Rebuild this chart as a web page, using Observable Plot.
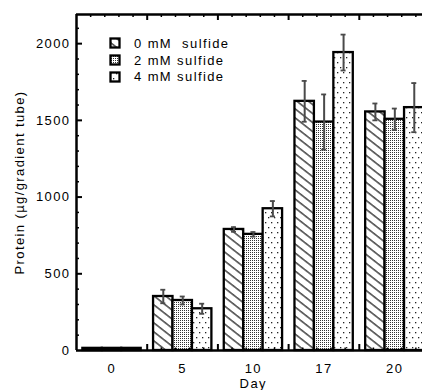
<!DOCTYPE html>
<html>
<head>
<meta charset="utf-8">
<script src="https://cdn.jsdelivr.net/npm/d3@7"></script>
<script src="https://cdn.jsdelivr.net/npm/@observablehq/plot@0.6"></script>
<style>
  html, body { margin: 0; padding: 0; background: white; }
  #wrap { position: relative; width: 422px; height: 390px; overflow: hidden; background: white; }
  #wrap > svg { max-width: none !important; width: 432px; height: 390px; display: block; }
  #legend { position: absolute; left: 109px; top: 35px; font-family: "Liberation Sans", Arial, sans-serif; font-size: 13px; letter-spacing: 1.4px; color: black; }
  #legend .row { height: 16.7px; display: flex; align-items: center; white-space: pre; }
  #legend svg { margin-right: 13px; }
</style>
</head>
<body>
<div id="wrap"><div id="legend"></div></div>
<script>
// ---- data ----
const days = ["0", "5", "10", "17", "20"];
const seriesNames = ["0 mM  sulfide", "2 mM sulfide", "4 mM sulfide"];
const sulfide0 = [14, 352, 789, 1624, 1555];
const sulfide2 = [14, 326, 757, 1489, 1507];
const sulfide4 = [14, 272, 924, 1942, 1583];
const err0 = [0, 44, 15, 133, 55];
const err2 = [0, 26, 15, 180, 70];
const err4 = [0, 33, 50, 117, 160];
const yTicks = [0, 500, 1000, 1500, 2000];

const values = [sulfide0, sulfide2, sulfide4];
const errors = [err0, err2, err4];
const patterns = ["url(#hatch)", "url(#dense)", "url(#sparse)"];

const rows = days.flatMap((d, i) => seriesNames.map((s, j) => ({
  i, j, day: d, series: s, value: values[j][i], err: errors[j][i]
})));

// ---- layout ----
const W = 432, H = 390, mL = 76, mR = 2.5, mT = 14, mB = 40;
const yMax = 2190;
const pxX = (W - mL - mR) / days.length;
const pxY = (H - mT - mB) / yMax;
const barStart = 0.09, barW = 0.275;
const left = d => d.i + barStart + d.j * barW;
const center = d => left(d) + barW / 2;

const xMajor = d3.range(1, days.length);
const xMinor = d3.range(0, days.length * 5).map(k => k / 5).filter(v => v % 1 !== 0);
const yMajor = yTicks.filter(v => v > 0);
const yMinor = d3.range(100, yMax, 100).filter(v => v % 500 !== 0);
const errRows = rows.filter(d => d.err > 0);

const tickStroke = {stroke: "black", strokeWidth: 1.5};

const chart = Plot.plot({
  width: W, height: H,
  marginLeft: mL, marginRight: mR, marginTop: mT, marginBottom: mB,
  style: {fontFamily: "Liberation Sans, Arial, sans-serif", fontSize: "13px", letterSpacing: "1.4px", color: "black", background: "white", maxWidth: "none"},
  x: {domain: [0, days.length], axis: null},
  y: {domain: [0, yMax], axis: null},
  marks: [
    ...seriesNames.map((s, j) => Plot.rect(rows.filter(d => d.j === j), {
      x1: left, x2: d => left(d) + barW, y1: 0, y2: "value",
      fill: patterns[j], stroke: "black", strokeWidth: 2.3
    })),
    Plot.ruleX(errRows, {x: center, y1: d => d.value - d.err, y2: d => d.value + d.err, stroke: "#4a4a4a", strokeWidth: 2}),
    Plot.ruleY(errRows, {y: d => d.value + d.err, x1: d => center(d) - 2.5 / pxX, x2: d => center(d) + 2.5 / pxX, stroke: "#4a4a4a", strokeWidth: 1.8}),
    Plot.ruleY(errRows, {y: d => d.value - d.err, x1: d => center(d) - 2.5 / pxX, x2: d => center(d) + 2.5 / pxX, stroke: "#4a4a4a", strokeWidth: 1.8}),
    // axis frame lines
    Plot.ruleX([0], {strokeWidth: 2.5}),
    Plot.ruleY([0], {strokeWidth: 2.5}),
    Plot.ruleY([yMax], {strokeWidth: 2.5}),
    // bottom ticks
    Plot.ruleX(xMajor, {x: d => d, y1: 0, y2: 6 / pxY, ...tickStroke, strokeWidth: 2}),
    Plot.ruleX(xMinor, {x: d => d, y1: 0, y2: 2.5 / pxY, ...tickStroke}),
    // top ticks
    Plot.ruleX(xMajor, {x: d => d, y1: yMax, y2: yMax - 6 / pxY, ...tickStroke, strokeWidth: 2}),
    Plot.ruleX(xMinor, {x: d => d, y1: yMax, y2: yMax - 3 / pxY, ...tickStroke}),
    // left ticks
    Plot.ruleY(yMajor, {y: d => d, x1: 0, x2: 6 / pxX, ...tickStroke, strokeWidth: 2}),
    Plot.ruleY(yMinor, {y: d => d, x1: 0, x2: 3 / pxX, ...tickStroke}),
    // axes labels
    Plot.axisY({ticks: yTicks, tickSize: 0, tickPadding: 6, tickFormat: d => String(d), label: null}),
    Plot.axisX({ticks: days.map((d, i) => i + 0.5), tickSize: 0, tickPadding: 13, tickFormat: v => days[Math.round(v - 0.5)], label: null}),
    Plot.text(["Day"], {frameAnchor: "bottom", dy: 33, lineAnchor: "middle", textAnchor: "middle"}),
    Plot.text(["Protein (µg/gradient tube)"], {frameAnchor: "left", dx: -57, rotate: -90, textAnchor: "middle", lineAnchor: "middle"})
  ]
});

// pattern definitions
const defs = `
<defs>
  <pattern id="hatch" patternUnits="userSpaceOnUse" width="8" height="7.1" patternTransform="rotate(38)">
    <rect width="8" height="7.1" fill="white"/>
    <line x1="-1" y1="3.5" x2="9" y2="3.5" stroke="black" stroke-width="1.1"/>
  </pattern>
  <pattern id="dense" patternUnits="userSpaceOnUse" width="2" height="2">
    <rect width="2" height="2" fill="white"/>
    <rect width="1" height="1" fill="#333"/>
  </pattern>
  <pattern id="sparse" patternUnits="userSpaceOnUse" width="6" height="10">
    <rect width="6" height="10" fill="white"/>
    <rect x="1" y="2" width="1.3" height="1.3" fill="#222"/>
    <rect x="4" y="7" width="1.3" height="1.3" fill="#222"/>
  </pattern>
</defs>`;
chart.insertAdjacentHTML("afterbegin", defs);
chart.style.maxWidth = "none";
chart.style.display = "block";
document.getElementById("wrap").insertBefore(chart, document.getElementById("legend"));

// legend
const legend = document.getElementById("legend");
seriesNames.forEach((s, j) => {
  const row = document.createElement("div");
  row.className = "row";
  row.innerHTML = `<svg width="12" height="12"><rect x="1.5" y="1.5" width="9" height="9" fill="${patterns[j]}" stroke="black" stroke-width="2.3"/></svg><span>${s}</span>`;
  legend.appendChild(row);
});
</script>
</body>
</html>
